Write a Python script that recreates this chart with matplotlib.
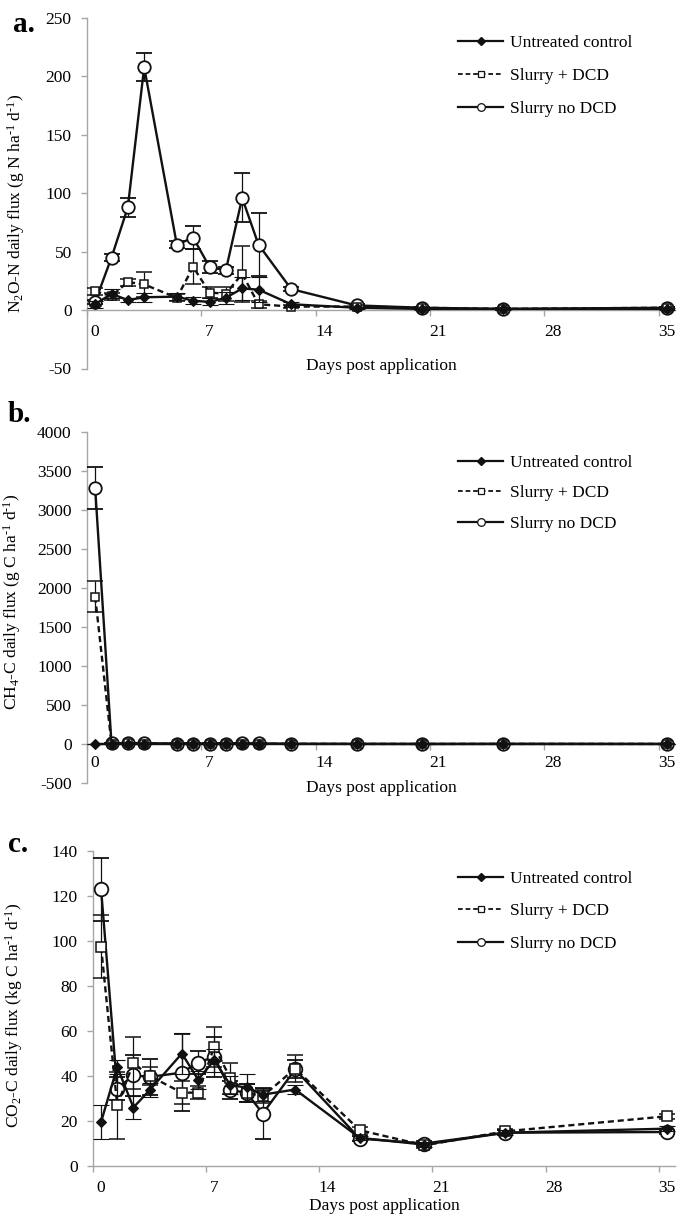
import matplotlib
matplotlib.use('Agg')
import matplotlib.pyplot as plt
from matplotlib.lines import Line2D

plt.rcParams['font.family'] = ['Liberation Serif', 'DejaVu Serif']
plt.rcParams['mathtext.fontset'] = 'custom'
plt.rcParams['mathtext.rm'] = 'Liberation Serif'
plt.rcParams['mathtext.it'] = 'Liberation Serif:italic'
plt.rcParams['mathtext.bf'] = 'Liberation Serif:bold'
plt.rcParams['mathtext.default'] = 'rm'

# ---------------- data ----------------
days = [0.5, 1.5, 2.5, 3.5, 5.5, 6.5, 7.5, 8.5, 9.5, 10.5, 12.5, 16.5, 20.5, 25.5, 35.5]
series_labels = ['Untreated control', 'Slurry + DCD', 'Slurry no DCD']
xtick_labels = ['0', '7', '14', '21', '28', '35']

# (a) N2O-N flux (g N/ha/d)
n2o_control = [5, 14, 8.5, 11, 11.5, 8, 7, 10.5, 18.5, 17.5, 5, 2, 1, 1, 1]
n2o_control_err = [3, 4, 2, 4, 3, 3, 3, 5, 10, 11, 2, 1, 1, 1, 1]
n2o_dcd = [16, 12, 24, 22, 10.5, 37, 15, 14, 31, 5, 3, 3, 2, 1, 2]
n2o_dcd_err = [3, 3, 3, 11, 3, 15, 5, 6, 24, 3, 1, 1, 1, 1, 1]
n2o_nodcd = [7, 45, 88, 208, 56, 62, 37, 34, 96, 56, 18, 4, 2, 1, 2]
n2o_nodcd_err = [2, 3, 8, 12, 3, 10, 5, 3, 21, 27, 2, 1, 1, 1, 1]

# (b) CH4-C flux (g C/ha/d)
ch4_control = [0, 1, 1, 1, 0, 1, 0, 1, 1, 1, 0, 0, 0, 0, 0]
ch4_control_err = [2, 2, 2, 2, 2, 2, 2, 2, 2, 2, 2, 2, 2, 2, 2]
ch4_dcd = [1890, 5, 8, 6, 3, 4, 2, 3, 5, 4, 2, 1, 1, 1, 1]
ch4_dcd_err = [200, 4, 4, 4, 3, 3, 3, 3, 3, 3, 2, 2, 2, 2, 2]
ch4_nodcd = [3280, 8, 12, 10, 5, 6, 4, 5, 9, 7, 3, 2, 1, 2, 1]
ch4_nodcd_err = [265, 5, 5, 5, 4, 4, 4, 4, 4, 4, 3, 2, 2, 2, 2]

# (c) CO2-C flux (kg C/ha/d)
co2_control = [19.6, 44, 26, 33.7, 50, 38.4, 47, 35.9, 34.9, 31.7, 34, 12.5, 9.5, 14.8, 16.6]
co2_control_err = [7.5, 3, 5, 3, 9, 4, 5, 4, 6, 3, 2, 1, 1, 1, 1]
co2_dcd = [97.4, 27, 45.8, 40, 32.6, 32.6, 53, 39, 32.6, 31, 43.3, 15.9, 9.2, 15.4, 22.1]
co2_dcd_err = [14, 15, 11.5, 4, 5, 3, 9, 7, 4, 3, 6, 1.5, 1, 1, 1]
co2_nodcd = [123, 34.4, 40.3, 39.6, 41.5, 46, 48.5, 33.7, 32.6, 23.3, 42.9, 12.2, 10, 14.8, 15.1]
co2_nodcd_err = [14, 5, 9, 8, 17, 5, 9, 4, 4, 11.4, 4, 1, 1, 1, 1]

# ---------------- style ----------------
W, H = 678, 1224
fig = plt.figure(figsize=(W / 100, H / 100), dpi=100)
LINE = '#111111'
SPINE = '#a6a6a6'
FS = 12.5
DASH = (0, (2.6, 1.6))


def px_rect(left, top, right, bottom):
    return [left / W, 1 - bottom / H, (right - left) / W, (bottom - top) / H]


def panel(rect, ylim, yticks, data, ylabel, ylabel_xy, xlabel_y, xpad,
          leg_top, labelspacing, msz):
    ax = fig.add_axes(px_rect(*rect))
    (c, ce), (d, de), (n, ne) = data
    ms_circ, ms_sq, ms_dia = msz
    common = dict(color=LINE, ecolor=LINE, elinewidth=0.9, capsize=5.5,
                  capthick=0.9, lw=1.7, mec=LINE)
    ax.errorbar(days, n, yerr=ne, marker='o', ms=ms_circ, mfc='white',
                mew=1.3, ls='-', zorder=3, **common)
    ax.errorbar(days, d, yerr=de, marker='s', ms=ms_sq, mfc='white',
                mew=1.1, ls=DASH, zorder=4, **common)
    ax.errorbar(days, c, yerr=ce, marker='D', ms=ms_dia, mfc=LINE,
                mew=0.8, ls='-', zorder=5, **common)

    ax.set_xlim(0, 36)
    ax.set_ylim(*ylim)
    ax.set_yticks(yticks)
    ax.set_yticklabels([str(v) for v in yticks])
    ax.set_xticks([0, 7, 14, 21, 28, 35])
    ax.set_xticklabels([])
    ax.set_xticks([0.5, 7.5, 14.5, 21.5, 28.5, 35.5], minor=True)
    ax.set_xticklabels(xtick_labels, minor=True)

    for s in ['top', 'right']:
        ax.spines[s].set_visible(False)
    for s in ['left', 'bottom']:
        ax.spines[s].set_color(SPINE)
        ax.spines[s].set_linewidth(1.0)
    ax.spines['bottom'].set_position(('data', 0))
    ax.spines['bottom'].set_zorder(1)

    ax.tick_params(axis='both', which='major', direction='out', length=4,
                   width=1.0, color=SPINE, labelsize=FS, labelcolor='black')
    ax.tick_params(axis='y', pad=7)
    ax.tick_params(axis='x', which='minor', length=0, pad=xpad,
                   labelsize=FS, labelcolor='black')

    ax.set_ylabel(ylabel, fontsize=FS)
    ax.yaxis.set_label_coords(*ylabel_xy)
    ax.set_xlabel('Days post application', fontsize=FS, va='top')
    ax.xaxis.set_label_coords(0.5, xlabel_y)

    handles = [
        Line2D([], [], color=LINE, lw=1.6, marker='D', ms=4.5, mfc=LINE, mec=LINE),
        Line2D([], [], color=LINE, lw=1.3, ls=DASH, marker='s', ms=4.5,
               mfc='white', mec=LINE, mew=0.9),
        Line2D([], [], color=LINE, lw=1.6, marker='o', ms=5.5, mfc='white',
               mec=LINE, mew=0.9),
    ]
    ax.legend(handles, series_labels, loc='upper left',
              bbox_to_anchor=(458 / W, 1 - leg_top / H),
              bbox_transform=fig.transFigure, frameon=False, fontsize=FS,
              handlelength=2.6, handletextpad=0.4, labelspacing=labelspacing,
              borderpad=0, borderaxespad=0)
    return ax


# (a)
panel((87, 18, 675, 368.5), (-50, 250), list(range(-50, 251, 50)),
      [(n2o_control, n2o_control_err), (n2o_dcd, n2o_dcd_err), (n2o_nodcd, n2o_nodcd_err)],
      r'N$_2$O-N daily flux (g N ha$^{\text{-}1}$ d$^{\text{-}1}$)', (-0.102, 0.47), 0.03, 10,
      35, 0.98, (9.0, 6.0, 5.0))

# (b)
panel((87, 432, 675, 783), (-500, 4000), list(range(-500, 4001, 500)),
      [(ch4_control, ch4_control_err), (ch4_dcd, ch4_dcd_err), (ch4_nodcd, ch4_nodcd_err)],
      r'CH$_4$-C daily flux (g C ha$^{\text{-}1}$ d$^{\text{-}1}$)', (-0.108, 0.516), 0.009, 8,
      455, 0.81, (9.0, 6.0, 5.0))

# (c)
panel((93, 851, 675, 1166), (0, 140), list(range(0, 141, 20)),
      [(co2_control, co2_control_err), (co2_dcd, co2_dcd_err), (co2_nodcd, co2_nodcd_err)],
      r'CO$_2$-C daily flux (kg C ha$^{\text{-}1}$ d$^{\text{-}1}$)', (-0.117, 0.479), -0.10, 10,
      871, 0.93, (9.8, 6.5, 5.5))

# panel letters
for letter, x, y in [('a.', 13, 32), ('b.', 8, 422), ('c.', 8, 852)]:
    fig.text(x / W, 1 - y / H, letter, fontsize=21, fontweight='bold',
             ha='left', va='baseline')

fig.savefig('out.png', dpi=100)
